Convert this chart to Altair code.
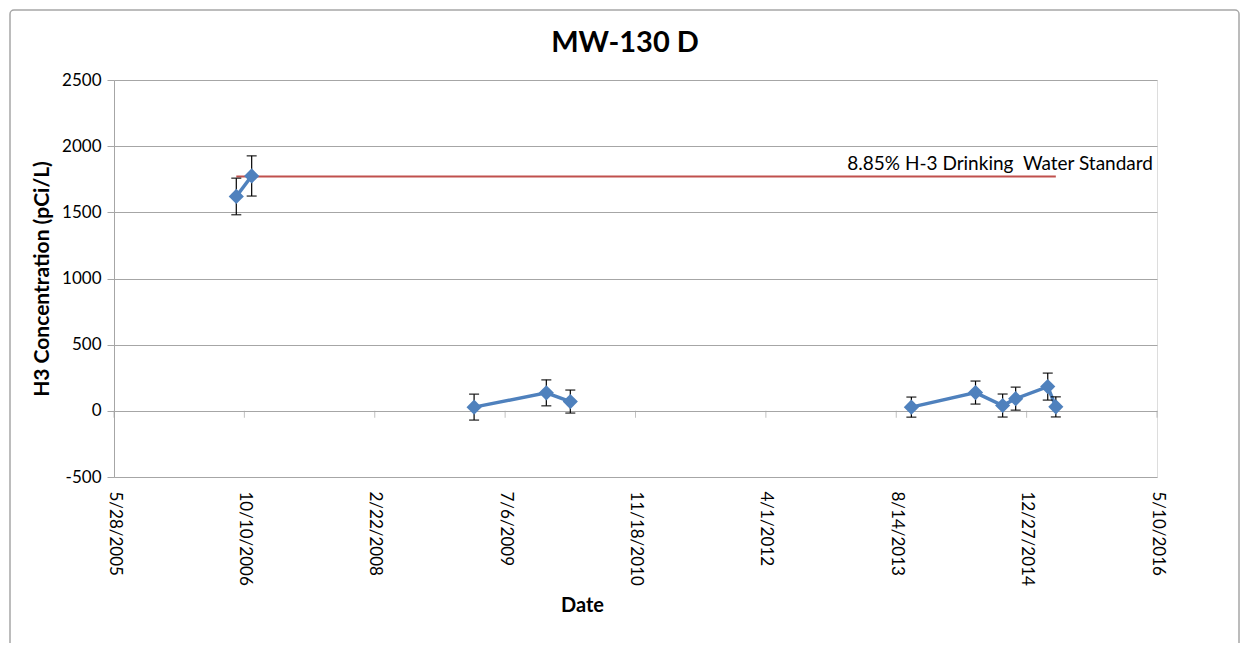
import altair as alt
import pandas as pd

# ---- data ----
chart_title = "MW-130 D"
sample_dates = ["2006-09-09", "2006-11-07", "2009-03-09", "2009-12-11", "2010-03-13",
                "2013-10-11", "2014-06-14", "2014-09-26", "2014-11-15", "2015-03-18", "2015-04-18"]
h3_values = [1620, 1775, 28, 136, 70, 28, 138, 40, 92, 183, 30]
h3_errors = [138, 152, 98, 98, 87, 76, 87, 87, 87, 102, 76]
segments = [1, 1, 2, 2, 2, 3, 3, 3, 3, 3, 3]

std_dates = ["2006-09-09", "2015-04-18"]
std_value = 1770
std_label = "8.85% H-3 Drinking\u00a0\u00a0Water Standard"

tick_dates = ["2005-05-28", "2006-10-10", "2008-02-22", "2009-07-06", "2010-11-18",
              "2012-04-01", "2013-08-14", "2014-12-27", "2016-05-10"]
y_ticks = [-500, 0, 500, 1000, 1500, 2000, 2500]

FONT = "Lato"
BLUE = "#4F81BD"
RED = "#C0504D"
GRID = "#a6a6a6"

df = pd.DataFrame({
    "date": pd.to_datetime(sample_dates),
    "value": h3_values,
    "err": h3_errors,
    "seg": segments,
})
df["lo"] = df["value"] - df["err"]
df["hi"] = df["value"] + df["err"]

std_df = pd.DataFrame({"date": pd.to_datetime(std_dates), "value": [std_value] * len(std_dates)})
lab_df = pd.DataFrame({"date": pd.to_datetime([tick_dates[-1]]), "value": [std_value], "label": [std_label]})
tick_df = pd.DataFrame({"date": pd.to_datetime(tick_dates)})
title_df = pd.DataFrame({"label": [chart_title]})


def dt(s):
    t = pd.Timestamp(s)
    return alt.DateTime(year=t.year, month=t.month, date=t.day)


x_scale = alt.Scale(domain=[dt(tick_dates[0]), dt(tick_dates[-1])], nice=False)
y_scale = alt.Scale(domain=[-500, 2500], nice=False)

x_enc = alt.X(
    "date:T", scale=x_scale, title="Date",
    axis=alt.Axis(
        values=[dt(s) for s in tick_dates], format="%-m/%-d/%Y", labelAngle=90,
        labelAlign="left", labelBaseline="middle", labelPadding=14,
        labelFont=FONT, labelFontSize=17, labelColor="#000000",
        domain=False, ticks=False, grid=False,
        titleFont=FONT, titleFontSize=20, titleFontWeight="bold", titleColor="#000000",
        titleX=468, titleY=118, titleAnchor="middle", titleAlign="center",
    ),
)
y_enc = alt.Y(
    "value:Q", scale=y_scale, title="H3 Concentration (pCi/L)",
    axis=alt.Axis(
        values=y_ticks, grid=True, gridColor=GRID, gridWidth=1,
        domainColor=GRID, domainWidth=1, tickColor=GRID, tickSize=7,
        labelExpr="'' + datum.value",
        labelFont=FONT, labelFontSize=17, labelColor="#000000", labelPadding=6,
        titleFont=FONT, titleFontSize=21, titleFontWeight="bold", titleColor="#000000",
        titlePadding=9,
    ),
)

# chart-area frame (decorative border around the whole chart)
frame = alt.Chart(alt.Data(values=[{"a": 1}])).mark_rect(
    filled=False, stroke=GRID, strokeWidth=1.5, cornerRadius=4
).encode(
    x=alt.value(-104), x2=alt.value(1125), y=alt.value(-70), y2=alt.value(575)
)

# chart title drawn as text above the plot area
title_mark = alt.Chart(title_df).mark_text(
    font=FONT, fontSize=29, fontWeight="bold", color="#000000",
    align="center", baseline="alphabetic"
).encode(x=alt.value(511), y=alt.value(-28), text="label:N")

base = alt.Chart(df)

zero_ticks = alt.Chart(tick_df).mark_tick(
    color=GRID, thickness=1, size=7, yOffset=3.5, orient="vertical"
).encode(x=alt.X("date:T", scale=x_scale), y=alt.datum(0, type="quantitative"))

std_line = alt.Chart(std_df).mark_line(color=RED, strokeWidth=2).encode(
    x=alt.X("date:T", scale=x_scale), y=alt.Y("value:Q", scale=y_scale)
)
std_text = alt.Chart(lab_df).mark_text(
    align="right", baseline="bottom", dx=-4, dy=-3, font=FONT, fontSize=19, color="#000000"
).encode(x=alt.X("date:T", scale=x_scale), y=alt.Y("value:Q", scale=y_scale), text="label:N")

err_rule = base.mark_rule(color="#000000", strokeWidth=1.2).encode(
    x=alt.X("date:T", scale=x_scale), y=alt.Y("lo:Q", scale=y_scale), y2="hi:Q"
)
cap_lo = base.mark_tick(color="#000000", thickness=1.5, size=10, orient="horizontal").encode(
    x=alt.X("date:T", scale=x_scale), y=alt.Y("lo:Q", scale=y_scale)
)
cap_hi = base.mark_tick(color="#000000", thickness=1.5, size=10, orient="horizontal").encode(
    x=alt.X("date:T", scale=x_scale), y=alt.Y("hi:Q", scale=y_scale)
)
line = base.mark_line(color=BLUE, strokeWidth=3.5).encode(
    x=x_enc, y=y_enc, detail="seg:N"
)
points = base.mark_point(shape="diamond", filled=True, size=230, color=BLUE, opacity=1).encode(
    x=alt.X("date:T", scale=x_scale), y=alt.Y("value:Q", scale=y_scale)
)

chart = alt.layer(
    frame, title_mark, line, zero_ticks, std_line, std_text, err_rule, cap_lo, cap_hi, points
).properties(
    width=1043, height=397,
    autosize=alt.AutoSizeParams(type="none"),
    padding={"left": 106, "top": 72, "right": 84, "bottom": 166},
).configure_view(stroke=None).configure(background="white")

chart.save("out.html", embed_options={"renderer": "svg", "actions": False})
